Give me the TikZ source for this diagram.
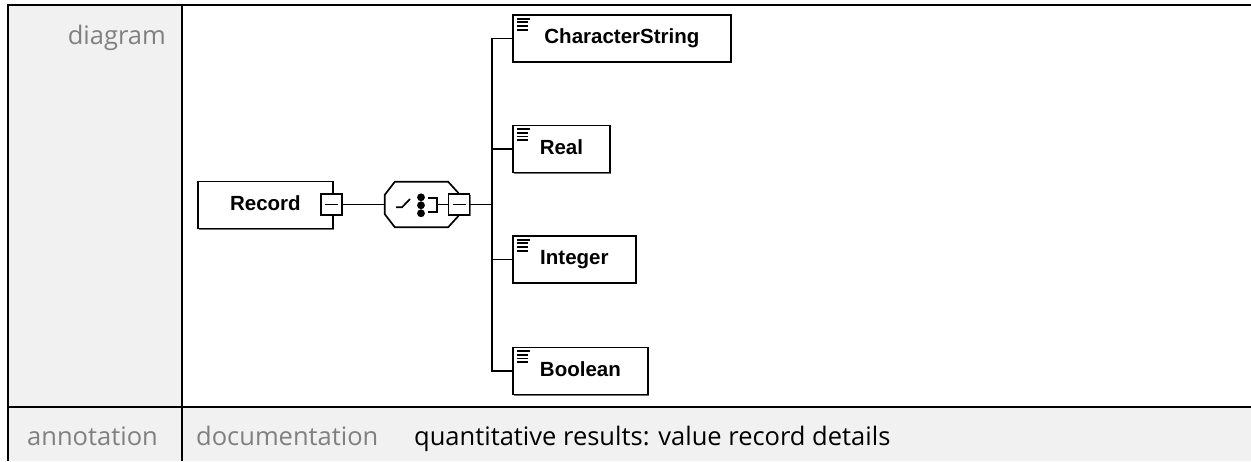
\documentclass[tikz,border=0pt]{standalone}
\usepackage{fontspec}
\setmainfont{Open Sans}
\newfontfamily\diagfont{Liberation Sans}
\usepackage{xcolor}
\definecolor{cellgray}{RGB}{241,241,241}
\definecolor{labelgray}{RGB}{128,128,128}
\definecolor{shadowgray}{RGB}{110,110,110}
\usetikzlibrary{positioning,calc,shadows}
\tikzset{
  elem/.style={draw, line width=1.8pt, fill=white, anchor=west, inner sep=0pt,
               font=\diagfont\bfseries\fontsize{20.5}{24}\selectfont,
               minimum height=47, text height=15pt, text depth=5pt,
               general shadow={fill=shadowgray, shadow xshift=1.4pt, shadow yshift=-1.4pt}},
  minus/.style={draw, line width=1.6pt, fill=white, minimum size=21, inner sep=0pt,
                general shadow={fill=shadowgray, shadow xshift=1.2pt, shadow yshift=-1.2pt},
                path picture={\draw[line width=1.5pt] ([xshift=4pt]path picture bounding box.west)
                  -- ([xshift=-4pt]path picture bounding box.east);}},
  conn/.style={line width=1.6pt},
  rowlabel/.style={font=\fontsize{25.5}{30}\selectfont, text=labelgray, inner sep=0pt},
  grid/.style={line width=2.2pt},
}

\begin{document}
\begin{tikzpicture}[x=1pt, y=-1pt]
\useasboundingbox (0,0) rectangle (1251,461);

% Table cells
\fill[cellgray] (9,6) rectangle (182,407);
\fill[cellgray] (9,407) rectangle (1251,461);
\draw[grid] (8.3,461) -- (8.3,5) -- (1251,5);
\draw[grid] (182.2,5) -- (182.2,461);
\draw[grid] (8.3,406.8) -- (1251,406.8);

\node[rowlabel, anchor=base east] (diaglbl) at (166,44.3) {diagram};
\node[rowlabel, anchor=base east] (annlbl) at (158,445.5) {annotation};
\node[rowlabel, anchor=base west] (doclbl) at (196,445.5) {documentation};
\node[rowlabel, anchor=base west, text=black] (doctext) at (414,445.5) {quantitative results: value record details};

% Left: the Record element
\node[elem, minimum width=135] (record) at (197,205) {Record};
\node[minus] (recmin) at (331.5,204.5) {};

% Choice compositor
\node[minimum width=73, minimum height=45, inner sep=0pt] (choice) at (421.5,204.5) {};
\draw[line width=1.7pt, fill=white] ([xshift=10pt]choice.north west) -- ([xshift=-10pt]choice.north east)
  -- ([yshift=-11pt]choice.north east) -- ([yshift=11pt]choice.south east)
  -- ([xshift=-10pt]choice.south east) -- ([xshift=10pt]choice.south west)
  -- ([yshift=13pt]choice.south west) -- ([yshift=-13pt]choice.north west) -- cycle;
\draw[line width=1.7pt] (396,207.3) -- (402,207.3) -- (410,199);
\fill (421,197.3) circle (3.9) (421,205.3) circle (3.9) (421,213.3) circle (3.9);
\draw[line width=1.7pt] (428.3,198.3) -- (436.7,198.3) -- (436.7,212.3) -- (428.3,212.3);
\node[minus] (chmin) at (459,204.5) {};
\draw[line width=1.6pt] (436.7,204.5) -- (chmin.west);

\draw[conn] (recmin.east) -- (choice.west);
\coordinate (bus) at (492,204.5);
\draw[conn] (chmin.east) -- (bus);

% Right: the four children
\node[elem, minimum width=218] (chars) at (512,38.5) {CharacterString};
\node[elem, minimum width=97] (real) at (512,149) {Real};
\node[elem, minimum width=123] (int) at (512,259.5) {Integer};
\node[elem, minimum width=135] (bool) at (512,371) {Boolean};

\foreach \n in {chars,real,int,bool} {
  \draw[line width=1.8pt] ([shift={(4.5,4.5)}]\n.north west) -- ++(13,0);
  \draw[line width=1.8pt] ([shift={(4.5,8.2)}]\n.north west) -- ++(11,0);
  \draw[line width=1.8pt] ([shift={(4.5,11.9)}]\n.north west) -- ++(11,0);
  \draw[line width=1.8pt] ([shift={(4.5,15.6)}]\n.north west) -- ++(11,0);
}

\draw[conn] (chars.west) -| (bus) |- (bool.west);
\draw[conn] (bus |- real.west) -- (real.west);
\draw[conn] (bus |- int.west) -- (int.west);
\end{tikzpicture}
\end{document}
